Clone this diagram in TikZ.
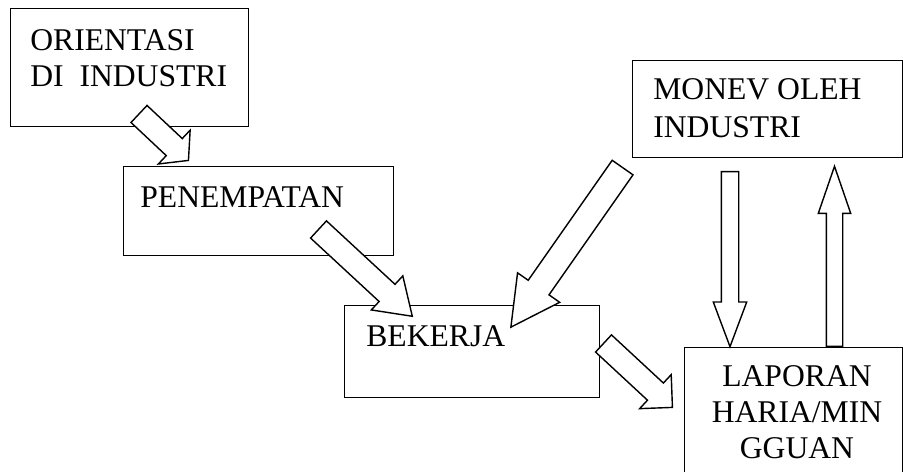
\documentclass[tikz,border=0pt]{standalone}
\usepackage{fontspec}
\setmainfont{Liberation Serif}
\usetikzlibrary{calc,shapes.arrows}

% hollow block arrow from #1 to #2: half shaft #3, head extend #4, tip angle #5
\newcommand{\fatarrow}[5]{%
  \path let \p1=($(#2)-(#1)$), \n1={atan2(\y1,\x1)}, \n2={veclen(\x1,\y1)} in
    node[fat,rotate=\n1,minimum height=\n2,inner ysep=#3,anchor=tail,
      single arrow head extend=#4,single arrow tip angle=#5]
    at (#1) {};}

\begin{document}
\begin{tikzpicture}[x=0.02cm,y=-0.02cm]
    \tikzstyle{box}=[draw,rectangle,line width=0.8pt,inner sep=0pt,anchor=north west]
    \tikzstyle{txt}=[inner sep=0pt,anchor=north west,align=left,font=\fontsize{18}{20.5}\selectfont]
    \tikzstyle{fat}=[draw,single arrow,line width=0.8pt,inner xsep=0pt,fill=white]
    \path[use as bounding box,clip] (0,0) rectangle (903,472);
    % boxes
    \draw (10,8) node[box,minimum width=4.76cm,minimum height=2.36cm] (orient) {};
    \draw (123,166) node[box,minimum width=5.4cm,minimum height=1.78cm] (place) {};
    \draw (344,305) node[box,minimum width=5.1cm,minimum height=1.84cm] (work) {};
    \draw (632,60) node[box,minimum width=5.4cm,minimum height=1.94cm] (monev) {};
    \draw (684,347) node[box,minimum width=4.36cm,minimum height=2.8cm] (report) {};
    % texts
    \draw (30,29) node[txt] (orient-t) {ORIENTASI\\DI~~INDUSTRI};
    \draw (140,186) node[txt] (place-t) {PENEMPATAN};
    \draw (366,325) node[txt] (work-t) {BEKERJA};
    \draw (653,78) node[txt,font=\fontsize{18}{21.5}\selectfont] (monev-t) {MONEV OLEH\\INDUSTRI};
    \draw (797,365) node[txt,anchor=north,align=center] (report-t) {LAPORAN\\HARIA/MIN\\GGUAN};
    % arrow ends
    \coordinate (a1) at (138.5,113.5); \coordinate (b1) at (188,160);
    \coordinate (a2) at (318,229);     \coordinate (b2) at (412,316);
    \coordinate (a3) at (623,167);     \coordinate (b3) at (511,327);
    \coordinate (a4) at (603,343);     \coordinate (b4) at (672,407);
    \coordinate (a5) at (730,171);     \coordinate (b5) at (730,346);
    \coordinate (a6) at (834.5,347);   \coordinate (b6) at (834.5,167);
    \fatarrow{a1}{b1}{0.22cm}{0.23cm}{100}
    \fatarrow{a2}{b2}{0.22cm}{0.23cm}{68}
    \fatarrow{a3}{b3}{0.24cm}{0.26cm}{56}
    \fatarrow{a4}{b4}{0.22cm}{0.23cm}{90}
    \fatarrow{a5}{b5}{0.16cm}{0.16cm}{41}
    \fatarrow{a6}{b6}{0.15cm}{0.16cm}{38}
\end{tikzpicture}
\end{document}
